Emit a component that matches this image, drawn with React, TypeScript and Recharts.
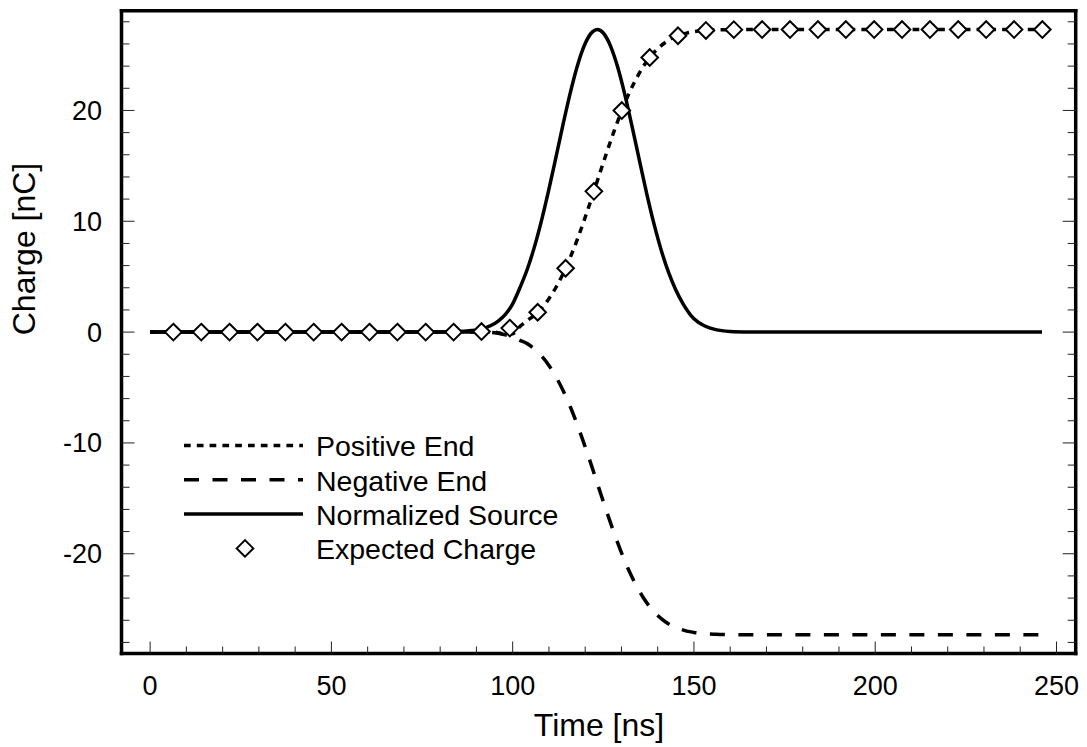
import React from 'react';
import { ComposedChart, Line, XAxis, YAxis } from 'recharts';

const FONT = '"Liberation Sans", Arial, Helvetica, sans-serif';

// ---- ticks ----
const xMinorTicks = [0, 10, 20, 30, 40, 50, 60, 70, 80, 90, 100, 110, 120, 130, 140, 150, 160, 170, 180, 190, 200, 210, 220, 230, 240, 250];
const xMajorTicks = [0, 50, 100, 150, 200, 250];
const yMinorTicks = [-28, -26, -24, -22, -20, -18, -16, -14, -12, -10, -8, -6, -4, -2, 0, 2, 4, 6, 8, 10, 12, 14, 16, 18, 20, 22, 24, 26, 28];
const yMajorTicks = [-20, -10, 0, 10, 20];
const xDomain = [-7.9, 255.3];
const yDomain = [-29, 29];

// ---- series ----
const endTimes = [0, 90, 94, 96, 98, 100, 102, 104, 106, 108, 110, 112, 114, 116, 118, 120, 122, 124, 126, 128, 130, 132, 134, 136, 138, 140, 142, 144, 146, 148, 150, 153, 156, 160, 165, 246];
const positiveEnd = [0, 0, 0.02, -0.05, -0.2, -0.15, 0.5, 1.04, 1.52, 2.17, 3.01, 4.07, 5.34, 6.83, 8.51, 10.36, 12.3, 14.3, 16.27, 18.16, 19.9, 21.47, 22.81, 23.95, 24.86, 25.57, 26.11, 26.51, 26.78, 26.98, 27.1, 27.21, 27.26, 27.29, 27.3, 27.3];
const negativeEnd = [0, 0, -0.02, -0.1, -0.25, -0.45, -0.75, -1.04, -1.52, -2.17, -3.01, -4.07, -5.34, -6.83, -8.51, -10.36, -12.3, -14.3, -16.27, -18.16, -19.9, -21.47, -22.81, -23.95, -24.86, -25.57, -26.11, -26.51, -26.78, -26.98, -27.1, -27.21, -27.26, -27.29, -27.3, -27.3];

const sourceTimes = [0, 80, 85, 88, 91, 94, 96, 98, 100, 102, 104, 106, 108, 110, 112, 114, 116, 118, 120, 122, 123.35, 125, 127, 129, 131, 133, 135, 137, 139, 141, 143, 145, 147, 150, 153, 156, 160, 165, 170, 246];
const normalizedSource = [0, 0.01, 0.05, 0.12, 0.25, 0.6, 1.0, 1.6, 2.55, 4.0, 5.646, 7.69, 10.13, 12.9, 15.87, 18.9, 21.75, 24.2, 26.04, 27.09, 27.3, 26.99, 25.81, 23.87, 21.34, 18.45, 15.42, 12.46, 9.74, 7.36, 5.38, 3.8, 2.55, 1.2, 0.55, 0.22, 0.06, 0.01, 0, 0];

const expectedTimes = [6.4, 14.1, 21.9, 29.6, 37.3, 45.1, 52.8, 60.5, 68.2, 76.0, 83.7, 91.4, 99.2, 106.9, 114.6, 122.4, 130.1, 137.8, 145.6, 153.3, 161.0, 168.8, 176.5, 184.2, 191.9, 199.7, 207.4, 215.1, 222.9, 230.6, 238.3, 246.1];
const expectedCharge = [0, 0, 0, 0, 0, 0, 0, 0, 0, 0, 0, 0.05, 0.36, 1.79, 5.76, 12.7, 19.99, 24.78, 26.74, 27.22, 27.29, 27.3, 27.3, 27.3, 27.3, 27.3, 27.3, 27.3, 27.3, 27.3, 27.3, 27.3];

const zip = (xs: number[], ys: number[]) => xs.map((x, i) => ({ x, y: ys[i] }));
const positiveData = zip(endTimes, positiveEnd);
const negativeData = zip(endTimes, negativeEnd);
const sourceData = zip(sourceTimes, normalizedSource);
const expectedData = zip(expectedTimes, expectedCharge);

const LINE_W = 3.5;
const legendItems = [
  { name: 'Positive End', dash: '6.7 6.1', kind: 'line' },
  { name: 'Negative End', dash: '15 13.5', kind: 'line' },
  { name: 'Normalized Source', dash: undefined, kind: 'line' },
  { name: 'Expected Charge', dash: undefined, kind: 'marker' },
];

const DR = 8.3;
const diamondPath = (cx: number, cy: number) =>
  `M${cx},${cy - DR}L${cx + DR},${cy}L${cx},${cy + DR}L${cx - DR},${cy}Z`;

const renderDiamond = (p: any) => {
  const { cx, cy, index } = p;
  if (cx == null || cy == null) return <g key={`dm-${index}`} />;
  return <path key={`dm-${index}`} d={diamondPath(cx, cy)} fill="#fff" stroke="#000" strokeWidth={2} />;
};

const TICK_COLOR = '#222';

const BottomTick = (p: any) => {
  const { x, y, payload } = p;
  const v = payload.value;
  const major = xMajorTicks.includes(v);
  return (
    <g>
      <line x1={x} y1={y} x2={x} y2={y - (major ? 12 : 7)} stroke={TICK_COLOR} strokeWidth={1} />
      {major && (
        <text x={x} y={y + 41.5} textAnchor="middle" fontSize={27} fontFamily={FONT} fill="#000">
          {v}
        </text>
      )}
    </g>
  );
};

const TopTick = (p: any) => {
  const { x, y, payload } = p;
  const major = xMajorTicks.includes(payload.value);
  return <line x1={x} y1={y} x2={x} y2={y + (major ? 12 : 7)} stroke={TICK_COLOR} strokeWidth={1} />;
};

const LeftTick = (p: any) => {
  const { x, y, payload } = p;
  const v = payload.value;
  const major = yMajorTicks.includes(v);
  return (
    <g>
      <line x1={x} y1={y} x2={x + (major ? 13 : 8)} y2={y} stroke={TICK_COLOR} strokeWidth={1} />
      {major && (
        <text x={x - 19.5} y={y + 9.5} textAnchor="end" fontSize={27} fontFamily={FONT} fill="#000">
          {v}
        </text>
      )}
    </g>
  );
};

const RightTick = (p: any) => {
  const { x, y, payload } = p;
  const major = yMajorTicks.includes(payload.value);
  return <line x1={x} y1={y} x2={x - (major ? 13 : 8)} y2={y} stroke={TICK_COLOR} strokeWidth={1} />;
};

const frame = { stroke: '#000', strokeWidth: 3.5, strokeLinecap: 'square' as const };

export default function App() {
  const rowY0 = 445.5;
  const rowGap = 34.3;
  return (
    <div style={{ position: 'absolute', left: 0, top: 0, width: 1087, height: 747, background: '#fff' }}>
      <ComposedChart width={1087} height={747} margin={{ top: 9.7, right: 10.3, bottom: 13.5, left: 21.5 }}>
        <XAxis
          xAxisId="b"
          dataKey="x"
          type="number"
          domain={xDomain}
          allowDataOverflow
          ticks={xMinorTicks}
          interval={0}
          height={80}
          tickSize={0}
          tickMargin={0}
          tickLine={false}
          axisLine={frame}
          tick={BottomTick}
        />
        <XAxis
          xAxisId="t"
          orientation="top"
          type="number"
          domain={xDomain}
          allowDataOverflow
          ticks={xMinorTicks}
          interval={0}
          height={1}
          tickSize={0}
          tickMargin={0}
          tickLine={false}
          axisLine={frame}
          tick={TopTick}
        />
        <YAxis
          yAxisId="l"
          type="number"
          domain={yDomain}
          allowDataOverflow
          ticks={yMinorTicks}
          interval={0}
          width={100}
          tickSize={0}
          tickMargin={0}
          tickLine={false}
          axisLine={frame}
          tick={LeftTick}
        />
        <YAxis
          yAxisId="r"
          orientation="right"
          type="number"
          domain={yDomain}
          allowDataOverflow
          ticks={yMinorTicks}
          interval={0}
          width={1}
          tickSize={0}
          tickMargin={0}
          tickLine={false}
          axisLine={frame}
          tick={RightTick}
        />
        <Line
          xAxisId="b"
          yAxisId="l"
          data={negativeData}
          dataKey="y"
          type="monotone"
          stroke="#000"
          strokeWidth={LINE_W}
          strokeDasharray={legendItems[1].dash}
          dot={false}
          activeDot={false}
          isAnimationActive={false}
        />
        <Line
          xAxisId="b"
          yAxisId="l"
          data={positiveData}
          dataKey="y"
          type="monotone"
          stroke="#000"
          strokeWidth={LINE_W}
          strokeDasharray={legendItems[0].dash}
          dot={false}
          activeDot={false}
          isAnimationActive={false}
        />
        <Line
          xAxisId="b"
          yAxisId="l"
          data={sourceData}
          dataKey="y"
          type="monotone"
          stroke="#000"
          strokeWidth={LINE_W}
          dot={false}
          activeDot={false}
          isAnimationActive={false}
        />
        <Line
          xAxisId="b"
          yAxisId="l"
          data={expectedData}
          dataKey="y"
          type="linear"
          stroke="none"
          dot={renderDiamond}
          activeDot={false}
          isAnimationActive={false}
        />
      </ComposedChart>
      <svg
        width={1087}
        height={747}
        style={{ position: 'absolute', left: 0, top: 0, pointerEvents: 'none' }}
      >
        <text
          transform="translate(35,249) rotate(-90)"
          textAnchor="middle"
          fontSize={32}
          fontFamily={FONT}
          fill="#000"
        >
          Charge [nC]
        </text>
        <text x={599} y={736} textAnchor="middle" fontSize={32} fontFamily={FONT} fill="#000">
          Time [ns]
        </text>
        {legendItems.map((it, i) => {
          const y = rowY0 + rowGap * i;
          return (
            <g key={it.name}>
              {it.kind === 'line' ? (
                <line x1={184} y1={y} x2={303} y2={y} stroke="#000" strokeWidth={LINE_W} strokeDasharray={it.dash} />
              ) : (
                <path d={diamondPath(245, y)} fill="#fff" stroke="#000" strokeWidth={2} />
              )}
              <text x={316} y={y + 10.8} fontSize={28.5} fontFamily={FONT} fill="#000">
                {it.name}
              </text>
            </g>
          );
        })}
      </svg>
    </div>
  );
}
